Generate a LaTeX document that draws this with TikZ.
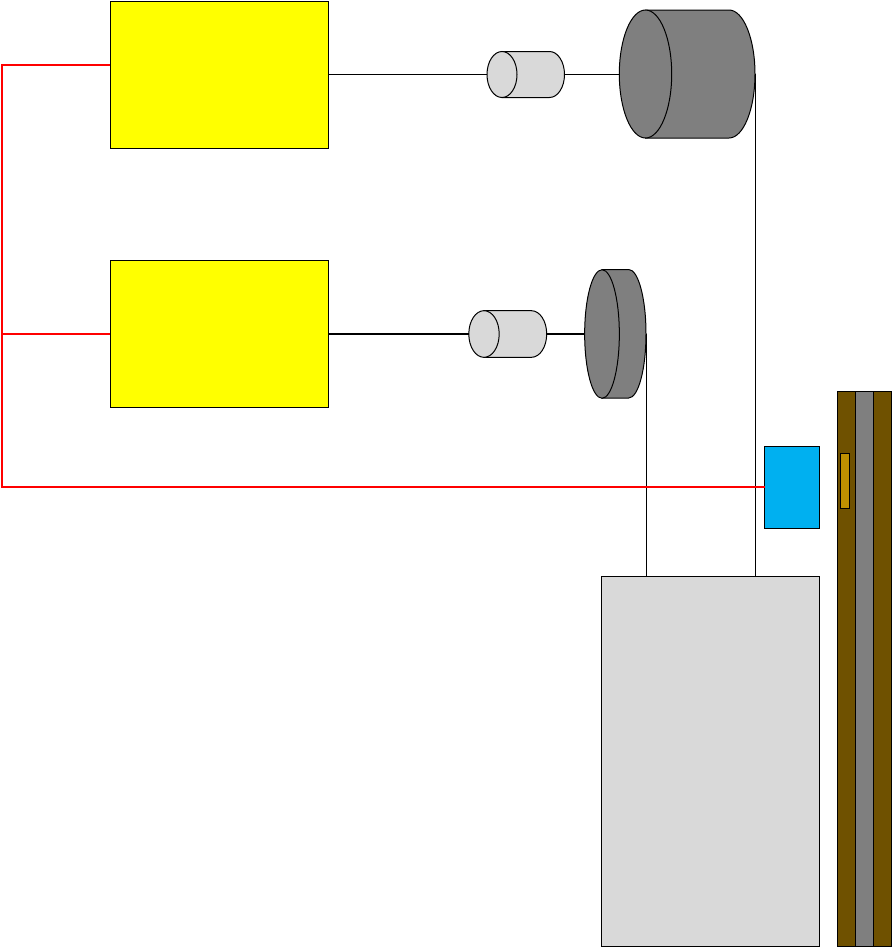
\documentclass[tikz,border=0pt]{standalone}
\usetikzlibrary{shapes.geometric,calc}
\definecolor{boxyellow}{HTML}{FFFF00}
\definecolor{lightgr}{HTML}{D9D9D9}
\definecolor{darkgr}{HTML}{7F7F7F}
\definecolor{sensorblue}{HTML}{00B0F0}
\definecolor{railbrown}{HTML}{6F5100}
\definecolor{goldtag}{HTML}{BF9000}
\definecolor{sigred}{HTML}{FF0000}
\begin{document}
\begin{tikzpicture}[x=0.75pt,y=-0.75pt,
  every node/.style={inner sep=0pt,outer sep=0pt},
  block/.style={draw=black,line width=0.75pt,anchor=north west},
  face/.style={ellipse,draw=black,line width=0.75pt},
  body/.style={draw=black,line width=0.75pt},
  wire/.style={draw=black,line width=0.75pt},
  thickwire/.style={draw=black,line width=1.5pt},
  redline/.style={draw=sigred,line width=1.1pt},
  thickredline/.style={draw=sigred,line width=1.5pt}]
\useasboundingbox (0,0) rectangle (893,947);
% control boxes
\node[block,fill=boxyellow,minimum width=163.5pt,minimum height=110.25pt] (boxA) at (110,1) {};
\node[block,fill=boxyellow,minimum width=163.5pt,minimum height=110.25pt] (boxB) at (110,260.5) {};
% car, rails, sensor
\node[block,fill=lightgr,minimum width=163.5pt,minimum height=277.5pt] (car) at (601,576) {};
\node[block,fill=railbrown,minimum width=13.875pt,minimum height=416.25pt] (railL) at (837,391) {};
\node[block,fill=railbrown,minimum width=13.5pt,minimum height=416.25pt] (railR) at (873.5,391) {};
\node[block,fill=darkgr,minimum width=13.5pt,minimum height=416.25pt] (railM) at (855.5,391) {};
\node[block,fill=goldtag,minimum width=7.1pt,minimum height=41.25pt] (tag) at (840.5,453) {};
\node[block,fill=sensorblue,minimum width=41pt,minimum height=61.5pt] (sensor) at (764.5,446) {};
% motor A and drum A
\draw[body,fill=lightgr] (502,51.5) -- (549.5,51.5) arc[start angle=-90,end angle=90,x radius=15,y radius=23] -- (502,97.5) -- cycle;
\node[face,fill=lightgr,minimum width=22.5pt,minimum height=34.5pt] (motorA) at (502,74.5) {};
\coordinate (motorAout) at (564.5,74);
\draw[body,fill=darkgr] (645.5,10) -- (729,10) arc[start angle=-90,end angle=90,x radius=26,y radius=64] -- (645.5,138) -- cycle;
\node[face,fill=darkgr,minimum width=39.3pt,minimum height=96pt] (drumA) at (645.5,74) {};
\coordinate (drumAedge) at (755,74);
% motor B and drum B
\draw[body,fill=lightgr] (484,310.7) -- (531.5,310.7) arc[start angle=-90,end angle=90,x radius=15.2,y radius=23.3] -- (484,357.3) -- cycle;
\node[face,fill=lightgr,minimum width=22.8pt,minimum height=35pt] (motorB) at (484,334) {};
\coordinate (motorBout) at (546.7,334);
\draw[body,fill=darkgr] (602,269.5) -- (628.7,269.5) arc[start angle=-90,end angle=90,x radius=17.3,y radius=64.25] -- (602,398) -- cycle;
\node[face,fill=darkgr,minimum width=26pt,minimum height=96.4pt] (drumB) at (602,334) {};
\coordinate (drumBedge) at (646,334);
% shafts
\draw[wire] (boxA.east |- motorAout) -- (motorA.west |- motorAout);
\draw[wire] (motorAout) -- (drumA.west);
\draw[thickwire] (boxB.east |- motorB.west) -- (motorB.west);
\draw[thickwire] (motorBout) -- (drumB.west);
% ropes
\draw[wire] (drumAedge) -- (drumAedge |- car.north);
\draw[wire] (drumBedge) -- (drumBedge |- car.north);
% signal lines
\coordinate (busTop) at (1.8,65.2);
\coordinate (busMid) at (1.8,334);
\coordinate (busEnd) at (1.8,487.2);
\draw[redline] (boxA.west |- busTop) -- (busTop) -- (busEnd) -- (sensor.west |- busEnd);
\draw[thickredline] (busMid) -- (boxB.west |- busMid);
\end{tikzpicture}
\end{document}
